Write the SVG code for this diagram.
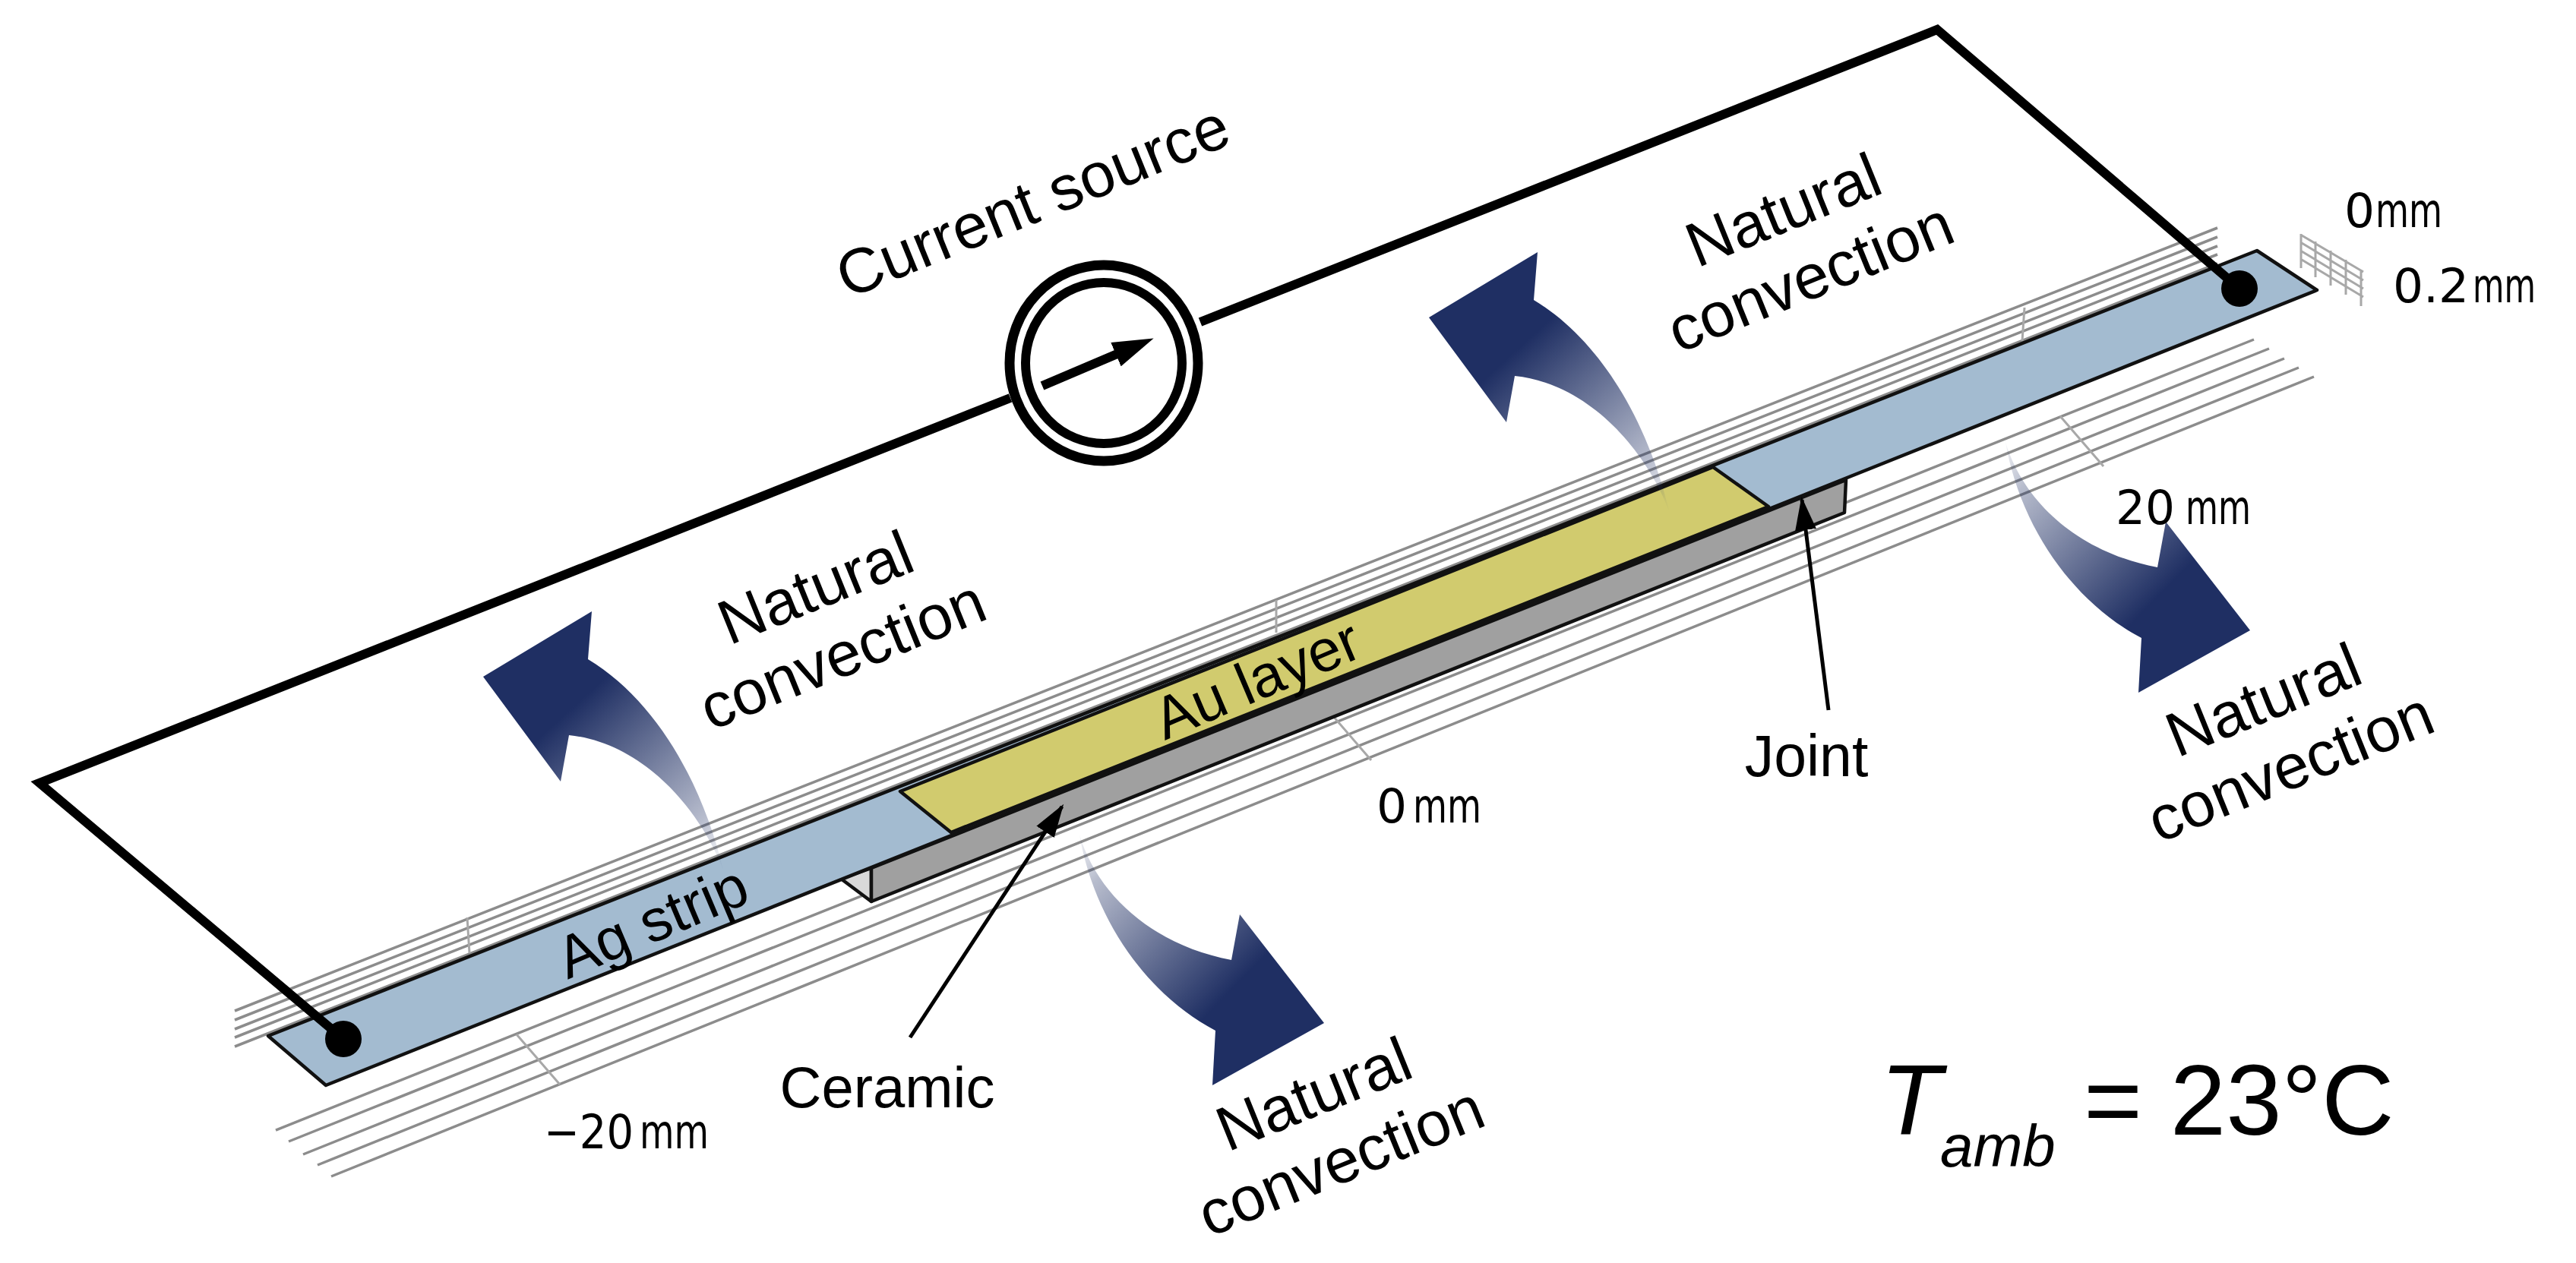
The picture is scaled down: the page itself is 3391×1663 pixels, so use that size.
<svg xmlns="http://www.w3.org/2000/svg" width="3391" height="1663" viewBox="0 0 3391 1663">
<style>
text{font-family:"Liberation Sans",Arial,sans-serif;fill:#000}
.lb{font-size:83px;text-anchor:middle}
.dim{font-family:"DejaVu Sans",sans-serif;font-size:63px}
.grid{stroke:#8c8c8c;stroke-width:3.5;fill:none}
.fine{stroke:#a8a8a8;stroke-width:3;fill:none}
.wire{stroke:#000;stroke-width:12;fill:none}
.edge{stroke:#111;stroke-width:4.5;stroke-linejoin:round}
.ptr{stroke:#000;stroke-width:5;fill:none;marker-end:url(#head)}
</style>
<defs>
<marker id="head" markerUnits="userSpaceOnUse" markerWidth="46" markerHeight="30" refX="40" refY="14" orient="auto"><path d="M0,0L44,14L0,28Z" fill="#000"/></marker>
<marker id="head2" markerUnits="userSpaceOnUse" markerWidth="60" markerHeight="34" refX="12" refY="17" orient="auto"><path d="M0,0L54,17L0,34Z" fill="#000"/></marker>
<linearGradient id="upGrad" x1="0.95" y1="1" x2="0.4" y2="0.35"><stop offset="0" stop-color="#1f2f63" stop-opacity="0.04"/><stop offset="0.2" stop-color="#1f2f63" stop-opacity="0.32"/><stop offset="1" stop-color="#1f2f63"/></linearGradient>
<linearGradient id="downGrad" x1="0" y1="0" x2="0.62" y2="0.62"><stop offset="0" stop-color="#1f2f63" stop-opacity="0.04"/><stop offset="0.2" stop-color="#1f2f63" stop-opacity="0.32"/><stop offset="1" stop-color="#1f2f63"/></linearGradient>
<path id="upArrow" fill="url(#upGrad)" d="M2024,332L2019,395C2110,450 2170,560 2197,672C2165,590 2090,505 1994,495L1983,556L1881,418Z"/>
<path id="downArrow" fill="url(#downGrad)" d="M1421,1099C1445,1180 1520,1245 1621,1264L1632,1204L1743,1347L1596,1429L1600,1357C1510,1310 1440,1210 1421,1099Z"/>
</defs>

<g id="grid">
<path class="grid" d="M309,1331L2919,300M309,1343L2919,312M309,1355L2919,324M309,1366L2919,335M309,1378L2919,347"/>
<path class="grid" d="M363,1488L2967,447M380,1503L2987,459M399,1520L3007,472M418,1534L3026,484M436,1549L3046,496"/>
<path class="fine" d="M615,1208L618,1255M1680,790L1680,833M2665,405L2662,449M680,1362L737,1428M1748,935L1805,1001M2712,548L2769,614"/>
<path class="fine" d="M3030,310L3111,358M3030,320L3111,369M3030,331L3111,380M3030,342L3111,391M3029,308L3029,353M3048,318L3048,365M3068,330L3068,376M3088,342L3088,388M3108,355L3108,403"/>
</g>

<g id="ceramic">
<polygon points="1107,1157 1147,1143 1147,1187" fill="#d9d9d9" class="edge"/>
<polygon points="1147,1143 2430,632 2428,675 1147,1187" fill="#a0a0a0" class="edge"/>
</g>
<g id="ag-strip">
<polygon points="353,1364 2971,330 3050,382 429,1429" fill="#a3bbd0" class="edge"/>
<text class="lb" font-size="78" style="font-size:78px" transform="translate(869,1238) rotate(-23)">Ag strip</text>
</g>
<g id="au-layer">
<polygon points="1185,1042 2255,615 2328,667 1252,1096" fill="#d1cb6e" class="edge"/>
<text class="lb" style="font-size:78px" transform="translate(1665,919) rotate(-23)">Au layer</text>
</g>

<g id="convection-arrows">
<use href="#upArrow" transform="translate(-1245,473)"/>
<use href="#upArrow"/>
<use href="#downArrow"/>
<use href="#downArrow" transform="translate(1219,-517)"/>
</g>

<g id="connectors">
<path class="wire" d="M1330,524L52,1031L452,1368"/>
<path class="wire" d="M1580,424L2550,39L2948,380"/>
<path class="ptr" d="M1198,1366L1398,1062"/>
<path class="ptr" d="M2407,935L2372,658"/>
</g>

<g id="terminals">
<circle cx="452" cy="1368" r="24"/>
<circle cx="2948" cy="380" r="24"/>
</g>

<g id="current-source">
<ellipse cx="1453" cy="478" rx="124" ry="129" fill="#fff" stroke="#000" stroke-width="13"/>
<ellipse cx="1453" cy="478" rx="103" ry="106" fill="#fff" stroke="#000" stroke-width="12"/>
<path d="M1372,508L1480,462" stroke="#000" stroke-width="12" fill="none" marker-end="url(#head2)"/>
<text class="lb" transform="translate(1370,291) rotate(-22)">Current source</text>
</g>

<g id="labels">
<g transform="translate(1084,800) rotate(-22)"><text class="lb">Natural</text><text class="lb" y="95">convection</text></g>
<g transform="translate(2358,303) rotate(-22)"><text class="lb">Natural</text><text class="lb" y="95">convection</text></g>
<g transform="translate(1740,1467) rotate(-22)"><text class="lb">Natural</text><text class="lb" y="95">convection</text></g>
<g transform="translate(2990,948) rotate(-22)"><text class="lb">Natural</text><text class="lb" y="95">convection</text></g>
<text x="1168" y="1458" font-size="76" text-anchor="middle">Ceramic</text>
<text x="2378" y="1022" font-size="77" text-anchor="middle">Joint</text>
<text x="2475" y="1494" font-size="132" font-style="italic">T</text>
<text x="2554" y="1536" font-size="78" font-style="italic">amb</text>
<text x="2743" y="1494" font-size="132">= 23°C</text>
</g>

<g id="dimensions">
<text class="dim" x="3086" y="299">0</text><text class="dim" x="3127" y="299" textLength="88" lengthAdjust="spacingAndGlyphs">mm</text>
<text class="dim" x="3150" y="398">0.2</text><text class="dim" x="3255" y="398" textLength="83" lengthAdjust="spacingAndGlyphs">mm</text>
<text class="dim" x="2785" y="690" textLength="78" lengthAdjust="spacingAndGlyphs">20</text><text class="dim" x="2877" y="690" textLength="86" lengthAdjust="spacingAndGlyphs">mm</text>
<text class="dim" x="1812" y="1083">0</text><text class="dim" x="1860" y="1083" textLength="90" lengthAdjust="spacingAndGlyphs">mm</text>
<text class="dim" x="716" y="1512" textLength="118" lengthAdjust="spacingAndGlyphs">−20</text><text class="dim" x="842" y="1512" textLength="91" lengthAdjust="spacingAndGlyphs">mm</text>
</g>
</svg>
